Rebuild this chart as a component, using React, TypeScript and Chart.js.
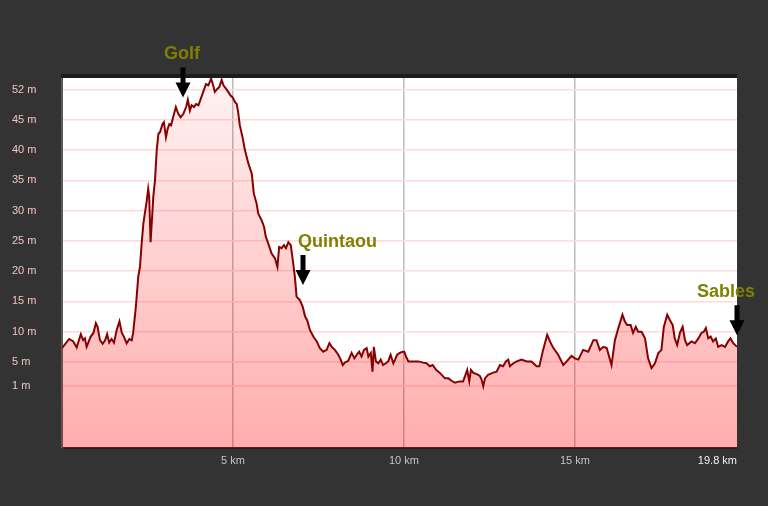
import React, { useEffect, useRef } from "react";
import { Chart, registerables } from "chart.js";

Chart.register(...registerables);

// Distance along the route (km)
const distanceKm = [
  0, 0.21, 0.33, 0.43, 0.55, 0.62, 0.67, 0.72, 0.84, 0.92,
  0.99, 1.04, 1.11, 1.19, 1.26, 1.32, 1.38, 1.45, 1.52, 1.6,
  1.68, 1.75, 1.81, 1.89, 1.97, 2.04, 2.08, 2.16, 2.23, 2.28,
  2.33, 2.38, 2.43, 2.48, 2.52, 2.55, 2.59, 2.63, 2.67, 2.72,
  2.77, 2.82, 2.87, 2.94, 2.98, 3.04, 3.09, 3.14, 3.19, 3.25,
  3.33, 3.4, 3.47, 3.55, 3.63, 3.68, 3.74, 3.79, 3.86, 3.92,
  3.99, 4.06, 4.13, 4.21, 4.28, 4.36, 4.41, 4.47, 4.54, 4.6,
  4.67, 4.72, 4.8, 4.86, 4.93, 4.99, 5.06, 5.11, 5.15, 5.2,
  5.28, 5.35, 5.45, 5.55, 5.61, 5.69, 5.74, 5.84, 5.91, 5.96,
  6.03, 6.13, 6.23, 6.3, 6.35, 6.42, 6.49, 6.55, 6.62, 6.69,
  6.75, 6.81, 6.86, 6.96, 7.04, 7.11, 7.17, 7.25, 7.35, 7.45,
  7.54, 7.64, 7.74, 7.82, 7.89, 7.98, 8.08, 8.15, 8.21, 8.27,
  8.37, 8.47, 8.55, 8.62, 8.69, 8.76, 8.83, 8.91, 8.96, 9.03,
  9.08, 9.12, 9.18, 9.25, 9.32, 9.39, 9.47, 9.54, 9.61, 9.69,
  9.74, 9.8, 9.88, 9.96, 10.01, 10.06, 10.13, 10.27, 10.42, 10.56,
  10.66, 10.76, 10.84, 10.94, 11.05, 11.2, 11.3, 11.39, 11.49, 11.62,
  11.73, 11.8, 11.85, 11.91, 11.96, 12.03, 12.13, 12.22, 12.27, 12.32,
  12.37, 12.46, 12.59, 12.71, 12.81, 12.9, 12.98, 13.05, 13.1, 13.2,
  13.3, 13.44, 13.59, 13.73, 13.88, 13.96, 14.07, 14.19, 14.27, 14.37,
  14.51, 14.66, 14.76, 14.9, 15.0, 15.1, 15.24, 15.39, 15.54, 15.63,
  15.73, 15.83, 15.93, 16.07, 16.17, 16.27, 16.39, 16.46, 16.53, 16.63,
  16.7, 16.78, 16.85, 16.95, 17.05, 17.14, 17.24, 17.34, 17.44, 17.53,
  17.6, 17.7, 17.78, 17.86, 17.92, 17.99, 18.07, 18.15, 18.22, 18.28,
  18.41, 18.51, 18.61, 18.7, 18.77, 18.83, 18.9, 18.97, 19.04, 19.12,
  19.19, 19.29, 19.39, 19.48, 19.55, 19.63, 19.74,
];

// Elevation (m)
const elevationM = [
  7.3, 8.8, 8.4, 7.4, 9.6, 8.6, 8.9, 7.5, 9.2, 9.8,
  11.4, 10.8, 8.6, 8.0, 8.6, 9.6, 8.2, 8.8, 8.2, 10.3,
  11.7, 9.8, 9.2, 8.1, 8.8, 8.6, 9.8, 14.1, 19.1, 20.7,
  24.6, 27.9, 29.8, 31.7, 33.6, 32.3, 24.8, 28.4, 32.3, 35.0,
  40.0, 42.7, 43.0, 44.3, 44.6, 42.1, 43.5, 44.3, 44.1, 45.4,
  47.1, 46.0, 45.4, 46.0, 47.1, 48.3, 46.5, 47.4, 47.1, 47.6,
  47.4, 48.5, 49.6, 50.9, 50.7, 51.8, 50.9, 49.6, 50.1, 50.4,
  51.6, 50.7, 50.1, 49.6, 49.0, 48.7, 47.9, 47.6, 46.3, 44.1,
  42.1, 40.0, 37.8, 36.1, 32.8, 31.2, 29.5, 28.4, 27.3, 25.7,
  24.6, 22.9, 22.1, 20.7, 24.0, 23.8, 24.3, 23.8, 24.8, 24.3,
  21.8, 19.1, 15.8, 15.2, 14.1, 12.5, 11.9, 10.3, 9.2, 8.4,
  7.3, 6.7, 7.0, 8.1, 7.5, 7.0, 6.2, 5.4, 4.5, 4.9,
  5.2, 6.5, 5.6, 6.2, 6.7, 5.9, 7.0, 7.3, 5.9, 6.5,
  3.4, 7.5, 5.1, 4.8, 5.4, 4.5, 4.8, 5.1, 6.2, 4.8,
  5.4, 6.2, 6.5, 6.7, 6.7, 5.9, 5.1, 5.1, 5.1, 4.9,
  4.8, 4.3, 4.5, 3.7, 3.2, 2.3, 2.3, 1.9, 1.6, 1.8,
  1.8, 2.9, 3.7, 1.8, 3.7, 3.2, 3.0, 2.7, 2.1, 1.0,
  2.3, 2.9, 3.2, 3.4, 4.5, 4.3, 5.1, 5.4, 4.3, 4.8,
  5.1, 5.4, 5.1, 5.1, 4.3, 4.3, 7.0, 9.5, 8.4, 7.3,
  6.2, 4.5, 5.1, 6.0, 5.6, 5.4, 7.0, 6.7, 8.6, 8.6,
  7.0, 7.5, 7.3, 4.5, 8.6, 10.6, 12.8, 11.7, 11.1, 11.1,
  9.8, 10.8, 10.0, 10.0, 8.9, 5.6, 4.0, 4.8, 6.5, 7.0,
  10.8, 12.8, 11.9, 11.1, 8.9, 7.8, 9.8, 10.8, 8.6, 7.8,
  8.4, 8.1, 8.9, 9.8, 10.0, 10.6, 8.9, 9.2, 8.4, 8.9,
  7.5, 7.8, 7.5, 8.4, 8.9, 8.1, 7.5,
];

const yTickValues = [50, 45, 40, 35, 30, 25, 20, 15, 10, 5, 1];
const yTickLabels = ["52 m", "45 m", "40 m", "35 m", "30 m", "25 m", "20 m", "15 m", "10 m", "5 m", "1 m"];

const xTickValues = [0, 5, 10, 15, 19.74];
const xTickLabels = ["", "5 km", "10 km", "15 km", "19.8 km"];

const markerNames = ["Golf", "Quintaou", "Sables"];
const markerKm = [3.54, 7.05, 19.74];
const markerElevation = [48.7, 17.7, 9.4];

// style: text placement relative to arrow
const markerTextAlign: CanvasTextAlign[] = ["center", "left", "left"];
const markerTextDx = [-1, -5, -40];

const FONT = '"Liberation Sans", Arial, sans-serif';

const backgroundPlugin = {
  id: "plotBg",
  beforeDraw(chart: any) {
    const { ctx, chartArea: a } = chart;
    ctx.save();
    ctx.fillStyle = "#ffffff";
    ctx.fillRect(a.left, a.top, a.right - a.left, a.bottom - a.top);
    ctx.restore();
  },
  afterDraw(chart: any) {
    const { ctx, chartArea: a } = chart;
    ctx.save();
    ctx.fillStyle = "#1c1c1c";
    ctx.fillRect(a.left - 1, a.top - 4, a.right - a.left + 1, 4);
    ctx.restore();
  },
};

const markerPlugin = {
  id: "markers",
  afterDraw(chart: any) {
    const { ctx } = chart;
    const xs = chart.scales.x;
    const ys = chart.scales.y;
    ctx.save();
    markerNames.forEach((name, i) => {
      const x = Math.round(xs.getPixelForValue(markerKm[i]));
      const y = ys.getPixelForValue(markerElevation[i]);
      // arrow
      ctx.fillStyle = "#000000";
      ctx.beginPath();
      ctx.moveTo(x - 2.5, y - 30);
      ctx.lineTo(x + 2.5, y - 30);
      ctx.lineTo(x + 2.5, y - 15);
      ctx.lineTo(x + 7.5, y - 15);
      ctx.lineTo(x, y);
      ctx.lineTo(x - 7.5, y - 15);
      ctx.lineTo(x - 2.5, y - 15);
      ctx.closePath();
      ctx.fill();
      // label
      ctx.fillStyle = "#808000";
      ctx.font = `bold 18px ${FONT}`;
      ctx.textAlign = markerTextAlign[i];
      ctx.textBaseline = "alphabetic";
      ctx.fillText(name, x + markerTextDx[i], y - 38);
    });
    ctx.restore();
  },
};

export default function App() {
  const canvasRef = useRef<HTMLCanvasElement | null>(null);

  useEffect(() => {
    document.body.style.margin = "0";
    const canvas = canvasRef.current;
    if (!canvas) return;
    const n = Math.min(distanceKm.length, elevationM.length);
    const points = [];
    for (let i = 0; i < n; i++) points.push({ x: distanceKm[i], y: elevationM[i] });
    const maxKm = distanceKm[n - 1];

    const chart = new Chart(canvas, {
      type: "line",
      data: {
        datasets: [
          {
            data: points,
            borderColor: "#880000",
            borderWidth: 2,
            pointRadius: 0,
            tension: 0,
            fill: "start",
            backgroundColor: (c: any) => {
              const ch = c.chart;
              const a = ch.chartArea;
              if (!a) return "rgba(255,0,0,0.2)";
              const g = ch.ctx.createLinearGradient(0, a.top, 0, a.bottom);
              g.addColorStop(0, "rgba(255,0,0,0.05)");
              g.addColorStop(1, "rgba(255,0,0,0.32)");
              return g;
            },
          },
        ],
      },
      options: {
        responsive: false,
        animation: false,
        events: [],
        layout: { padding: { left: 12, right: 31, top: 78, bottom: 0 } },
        plugins: {
          legend: { display: false },
          tooltip: { enabled: false },
        },
        scales: {
          x: {
            type: "linear",
            min: 0,
            max: maxKm,
            afterFit: (s: any) => {
              s.height = 58;
            },
            afterBuildTicks: (s: any) => {
              s.ticks = xTickValues.map((v) => ({ value: v }));
            },
            grid: {
              drawTicks: false,
              lineWidth: 1.5,
              color: (c: any) => {
                const v = c.tick ? c.tick.value : 0;
                return v > 0 && v < maxKm ? "#bcbcbc" : "rgba(0,0,0,0)";
              },
            },
            border: { color: "#222222", width: 2 },
            ticks: {
              autoSkip: false,
              maxRotation: 0,
              align: "inner",
              padding: 6,
              font: { family: FONT, size: 11 },
              color: (c: any) => (c.index === xTickValues.length - 1 ? "#f2f2f2" : "#c4c4c4"),
              callback: (value: any) => {
                const idx = xTickValues.indexOf(value);
                return idx >= 0 ? xTickLabels[idx] : "";
              },
            },
          },
          y: {
            type: "linear",
            min: -9.2,
            max: 51.9,
            afterFit: (s: any) => {
              s.width = 50;
            },
            afterBuildTicks: (s: any) => {
              s.ticks = yTickValues.map((v) => ({ value: v }));
            },
            grid: {
              drawTicks: false,
              lineWidth: 1.5,
              color: "#ffdada",
            },
            border: { color: "#5a5a5a", width: 2 },
            ticks: {
              crossAlign: "far",
              autoSkip: false,
              font: { family: FONT, size: 11 },
              color: "#f0c2c2",
              callback: (value: any) => {
                const idx = yTickValues.indexOf(value);
                return idx >= 0 ? yTickLabels[idx] : "";
              },
            },
          },
        },
      },
      plugins: [backgroundPlugin, markerPlugin],
    } as any);

    return () => chart.destroy();
  }, []);

  return (
    <div
      style={{
        position: "fixed",
        left: 0,
        top: 0,
        width: 768,
        height: 506,
        background: "#333333",
      }}
    >
      <canvas ref={canvasRef} width={768} height={506} style={{ display: "block" }} />
    </div>
  );
}
